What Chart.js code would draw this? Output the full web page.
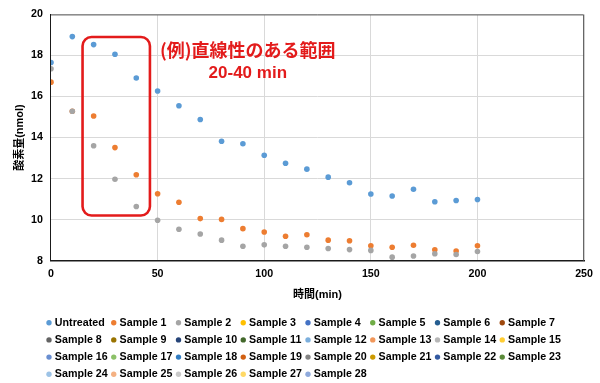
<!DOCTYPE html>
<html><head><meta charset="utf-8">
<script src="https://cdn.jsdelivr.net/npm/chart.js@4.4.1/dist/chart.umd.min.js"></script>
<style>html,body{margin:0;padding:0;background:#fff;}#wrap{width:600px;height:383px;}</style>
</head><body><div id="wrap"><canvas id="c" width="600" height="383"></canvas></div>
<script>
// ---- data ----
const times = [0,10,20,30,40,50,60,70,80,90,100,110,120,130,140,150,160,170,180,190,200];
const untreated = [17.66,18.92,18.53,18.06,16.90,16.27,15.55,14.88,13.82,13.70,13.14,12.75,12.46,12.07,11.80,11.25,11.15,11.48,10.87,10.93,10.98];
const sample1 = [16.70,15.28,15.05,13.51,12.19,11.26,10.85,10.05,10.01,9.56,9.40,9.19,9.26,9.00,8.97,8.73,8.65,8.75,8.53,8.47,8.73];
const sample2 = [17.35,15.28,13.60,11.97,10.64,9.97,9.53,9.30,9.00,8.70,8.77,8.70,8.65,8.59,8.54,8.50,8.17,8.23,8.34,8.30,8.45];
const seriesNames = ['Untreated','Sample 1','Sample 2','Sample 3','Sample 4','Sample 5','Sample 6','Sample 7',
  'Sample 8','Sample 9','Sample 10','Sample 11','Sample 12','Sample 13','Sample 14','Sample 15',
  'Sample 16','Sample 17','Sample 18','Sample 19','Sample 20','Sample 21','Sample 22','Sample 23',
  'Sample 24','Sample 25','Sample 26','Sample 27','Sample 28'];
const seriesValues = [untreated, sample1, sample2]; // remaining samples have no plotted values
const seriesColors = ['#5B9BD5','#ED7D31','#A5A5A5','#FFC000','#4472C4','#70AD47','#255E91','#9E480E',
  '#636363','#997300','#264478','#43682B','#7CAFDD','#F1975A','#B7B7B7','#FFCD33',
  '#698ED0','#8CC168','#327DC2','#D26012','#848484','#CC9A00','#335AA1','#5A8A39',
  '#9DC3E6','#F4B183','#C9C9C9','#FFD966','#8FAADC'];
const xRange = {min: 0, max: 250, step: 50};
const yRange = {min: 8, max: 20, step: 2};
const xTitle = '時間(min)';
const yTitle = '酸素量(nmol)';
const noteLines = ['(例)直線性のある範囲', '20-40 min'];
const noteBox = {xMin: 14.8, xMax: 46.4, yMin: 10.2, yMax: 18.9};
const noteText = {x: 92.3, y1: 18.24, y2: 17.14};

// ---- styles ----
const FONT = "'Liberation Sans', Arial, 'Noto Sans CJK JP', sans-serif";
const NOTE_RED = '#E31B1B';
const LEG_TEXT_W = 51.9;

const datasets = seriesNames.map((name, i) => ({
  label: name,
  data: (seriesValues[i] || []).map((v, k) => ({x: times[k], y: v})),
  backgroundColor: seriesColors[i],
  borderColor: seriesColors[i],
  pointRadius: 2.8,
  pointBorderWidth: 0,
  pointHoverRadius: 2.8,
  order: 100 - i
}));

const legendGrid = {
  id: 'legendGrid',
  beforeLayout(chart) {
    const lg = chart.legend;
    if (!lg || lg._gridPatched) return;
    lg._gridPatched = true;
    const wrap = (fn) => function(...args) {
      const ctx = this.ctx;
      ctx.measureText = () => ({width: LEG_TEXT_W});
      try { return fn.apply(this, args); } finally { delete ctx.measureText; }
    };
    lg.fit = wrap(lg.fit);
    lg.draw = wrap(lg.draw);
  },
  afterLayout(chart) {
    const lg = chart.legend;
    if (!lg) return;
    const h = lg.height;
    lg.left = 42; lg.right = 600; lg.width = 558;
    lg.top = 310.85; lg.bottom = lg.top + h;
  }
};

const frameAndNote = {
  id: 'frameAndNote',
  beforeDatasetsDraw(chart) {
    const {ctx, chartArea: a} = chart;
    ctx.save();
    ctx.strokeStyle = '#595959';
    ctx.lineWidth = 1;
    ctx.beginPath();
    ctx.moveTo(a.left, a.top + 0.5); ctx.lineTo(a.right - 0.5, a.top + 0.5); ctx.lineTo(a.right - 0.5, a.bottom);
    ctx.stroke();
    ctx.restore();
  },
  afterDatasetsDraw(chart) {
    const {ctx, scales: {x, y}} = chart;
    const l = x.getPixelForValue(noteBox.xMin), r = x.getPixelForValue(noteBox.xMax);
    const t = y.getPixelForValue(noteBox.yMax), b = y.getPixelForValue(noteBox.yMin);
    const rad = 9;
    ctx.save();
    ctx.strokeStyle = NOTE_RED;
    ctx.lineWidth = 2.6;
    ctx.beginPath();
    ctx.moveTo(l + rad, t);
    ctx.arcTo(r, t, r, b, rad);
    ctx.arcTo(r, b, l, b, rad);
    ctx.arcTo(l, b, l, t, rad);
    ctx.arcTo(l, t, r, t, rad);
    ctx.closePath();
    ctx.stroke();
    ctx.fillStyle = NOTE_RED;
    ctx.textAlign = 'center';
    ctx.textBaseline = 'middle';
    ctx.font = "bold 18px 'Noto Sans CJK JP', 'Liberation Sans', sans-serif";
    ctx.fillText(noteLines[0], x.getPixelForValue(noteText.x), y.getPixelForValue(noteText.y1));
    ctx.font = "bold 17px 'Liberation Sans', Arial, sans-serif";
    ctx.fillText(noteLines[1], x.getPixelForValue(noteText.x), y.getPixelForValue(noteText.y2));
    ctx.restore();
  }
};

Chart.defaults.font.family = FONT;
new Chart(document.getElementById('c'), {
  type: 'scatter',
  data: {datasets},
  plugins: [legendGrid, frameAndNote],
  options: {
    responsive: false,
    devicePixelRatio: 1,
    animation: false,
    layout: {padding: {left: 0, right: 14, top: 7.3, bottom: 3}},
    scales: {
      x: {
        type: 'linear', min: xRange.min, max: xRange.max,
        ticks: {stepSize: xRange.step, padding: 7, color: '#000', font: {size: 10.7, weight: 'bold'}},
        grid: {color: '#D9D9D9', drawTicks: false},
        border: {display: true, color: '#1a1a1a', width: 1.5},
        title: {display: true, text: xTitle, color: '#000', font: {size: 11, weight: 'bold'}, padding: {top: 0.5, bottom: 0}}
      },
      y: {
        type: 'linear', min: yRange.min, max: yRange.max,
        ticks: {stepSize: yRange.step, padding: 8, color: '#000', font: {size: 10.7, weight: 'bold'}},
        grid: {color: '#D9D9D9', drawTicks: false},
        border: {display: true, color: '#1a1a1a', width: 1},
        title: {display: true, text: yTitle, color: '#000', font: {size: 11, weight: 'bold'}, padding: {top: 13.4, bottom: -3.5}}
      }
    },
    plugins: {
      tooltip: {enabled: false},
      legend: {
        position: 'bottom',
        align: 'start',
        labels: {
          usePointStyle: true, pointStyle: 'circle',
          boxWidth: 1, boxHeight: 3.8, padding: 6.5,
          color: '#000', font: {size: 10.7, weight: 'bold'},
          sort: (a, b) => a.datasetIndex - b.datasetIndex
        }
      }
    }
  }
});
</script></body></html>
